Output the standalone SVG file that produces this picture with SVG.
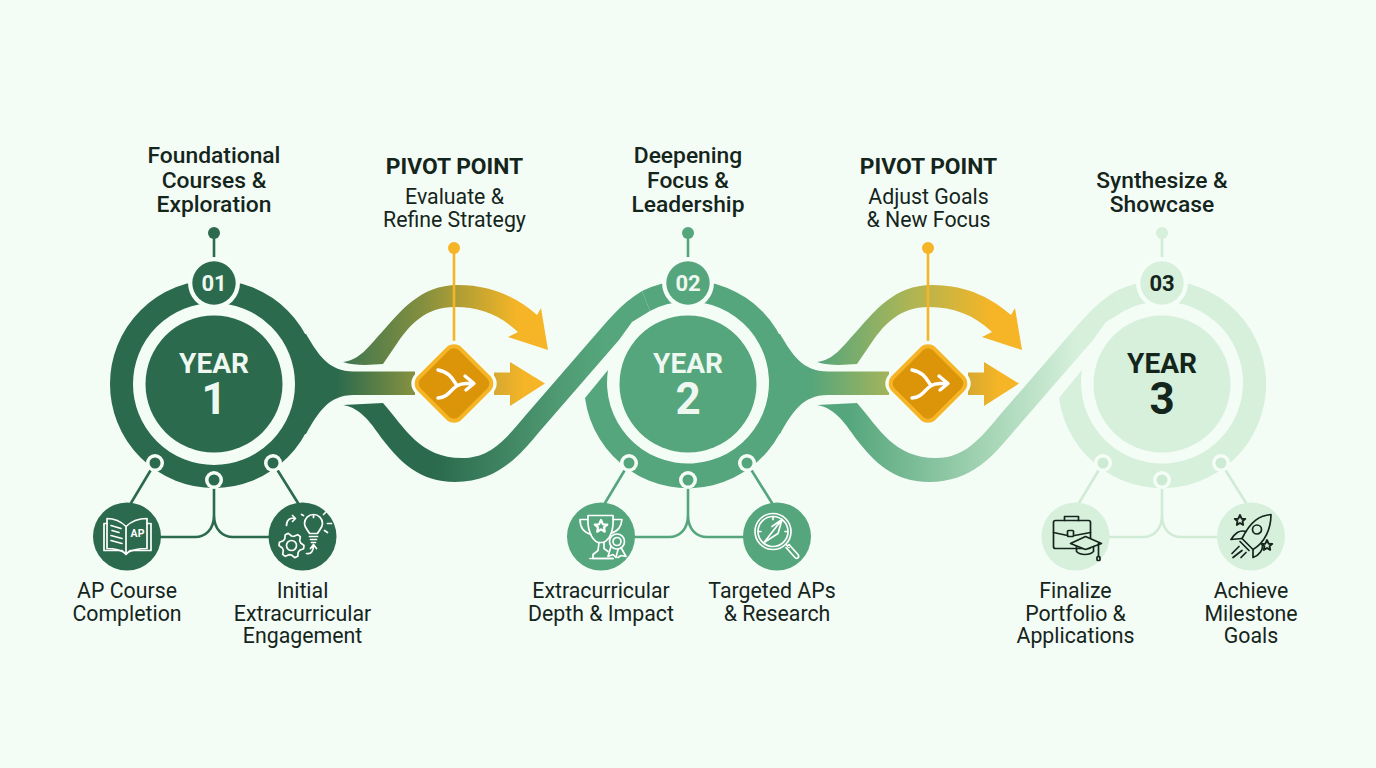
<svg xmlns="http://www.w3.org/2000/svg" width="1376" height="768" viewBox="0 0 1376 768">
<style>
text{font-family:Roboto,"Liberation Sans",sans-serif;text-anchor:middle;fill:#14251c}
.t{font-size:22.8px;font-weight:500}
.p{font-size:22.800px;font-weight:700}
.s{font-size:21.300px}
.y{font-size:28px;font-weight:700}
.n{font-size:44px;font-weight:700}
.b{font-size:22px;font-weight:700}
.w{fill:#eef8f1}
.halo{fill:#f5fdf7}
.i{fill:none;stroke-width:1.7;stroke-linecap:round;stroke-linejoin:round}
.iw{stroke:#fff}
.ik{stroke:#16241c}
.c1{fill:#2b6a4d}.c2{fill:#55a67c}.c3{fill:#d6f0dc}.g{fill:#f5b526}
.l{fill:none;stroke-width:2.6;stroke-linecap:round}
.l1{stroke:#2b6a4d}.l2{stroke:#55a67c}.l3{stroke:#d0ecd6}
</style>
<defs>
<linearGradient id="st1" x1="0" x2="1" y1="0" y2="0"><stop offset=".4" stop-color="#2b6a4d"/><stop offset="1" stop-color="#87913f"/></linearGradient>
<linearGradient id="st2" x1="0" x2="1" y1="0" y2="0"><stop offset=".4" stop-color="#55a67c"/><stop offset="1" stop-color="#a3b45a"/></linearGradient>
<linearGradient id="up1" x1="0" x2="1" y1="0" y2="0"><stop offset="0" stop-color="#3f7550"/><stop offset=".4" stop-color="#86903e"/><stop offset=".85" stop-color="#f5b526"/></linearGradient>
<linearGradient id="up2" x1="0" x2="1" y1="0" y2="0"><stop offset="0" stop-color="#55a67c"/><stop offset=".4" stop-color="#a3b45a"/><stop offset=".85" stop-color="#f5b526"/></linearGradient>
<linearGradient id="ar1" x1="0" x2="1" y1="0" y2="0"><stop offset="0" stop-color="#d6a832"/><stop offset=".6" stop-color="#f5b526"/></linearGradient>
<linearGradient id="bd1" x1="0" x2="1" y1="0" y2="0"><stop offset=".3" stop-color="#2b6a4d"/><stop offset=".7" stop-color="#4f9a72"/><stop offset=".85" stop-color="#55a67c"/></linearGradient>
<linearGradient id="bd2" x1="0" x2="1" y1="0" y2="0"><stop offset=".1" stop-color="#55a67c"/><stop offset=".55" stop-color="#a4d4b4"/><stop offset=".85" stop-color="#d6f0dc"/></linearGradient>
<path id="star" d="M0,-5 L1.5,-1.6 L4.8,-1.5 L2.3,.6 L2.9,4 L0,2.2 L-2.9,4 L-2.3,.6 L-4.8,-1.5 L-1.5,-1.6Z"/>
<path id="flare" d="M70,-50 L92,-50 C104,-30 114,-12.5 140,-12.5 L201,-12.5 L201,11 L140,11 C114,11 104,29 92,50 L70,50 A88,88 0 0 0 70,-50Z"/>
<path id="cutring" fill-rule="evenodd" d="M-103,14 A104,104 0 1 0 -46,-93 L-38,-73 A81,81 0 1 1 -80,-14 Z"/>
<path id="upper" d="M343,362 C360,360 368,347 382,332 C400,312 420,285 458,285 C495,285 520,300 537,315 L541,308 L548,350 L508,337 L518,332 C500,315 480,307 455,307 C425,307 410,325 398,342 L383,364 C370,365 355,366 343,362Z"/>
<path id="rarrow" d="M494,372.500 L510,372.500 L510,362 L545,383.500 L510,406 L510,395 L494,395Z"/>
</defs>
<rect width="1376" height="768" fill="#f4fcf6"/>

<g id="connectors">
<path d="M343,405 L383,403 C405,428 420,458 462,458 C490,458 505,440 525,416 L590,341 C606,323 620,304 642,291 L650,311 L632,322 L619,340 L540,431 C520,455 498,482 455,482 C420,482 400,462 383,440 C372,425 362,408 343,405Z" fill="url(#bd1)"/>
<path d="M817,405 L857,403 C879,428 894,458 936,458 C964,458 979,440 999,416 L1064,341 C1080,323 1094,304 1116,291 L1124,311 L1106,322 L1093,340 L1014,431 C994,455 972,482 929,482 C894,482 874,462 857,440 C846,425 836,408 817,405Z" fill="url(#bd2)"/>
<use href="#upper" fill="url(#up1)"/>
<use href="#upper" x="474" fill="url(#up2)"/>
<use href="#rarrow" fill="url(#ar1)"/>
<use href="#rarrow" x="474" fill="url(#ar1)"/>
<path class="l l1" d="M214,233V262M155,463L131,503M273,463L298,503M214,480V515C214,530 205,537 195,537H160M214,515C214,530 223,537 233,537H270"/>
<path class="l l2" d="M688,233V262M629,463L605,503M747,463L772,503M688,480V515C688,530 679,537 669,537H634M688,515C688,530 697,537 707,537H744"/>
<path class="l l3" stroke-width="3" d="M1162,233V262M1103,463L1079,503M1221,463L1246,503M1162,480V515C1162,530 1153,537 1143,537H1108M1162,515C1162,530 1171,537 1181,537H1218"/>
</g>

<g id="year1">
<g transform="translate(214,384)">
<circle r="92.500" fill="none" stroke="#2b6a4d" stroke-width="23"/>
<use href="#flare" fill="url(#st1)"/>
<circle r="68.500" class="c1"/>
<circle cy="-101" r="26" class="halo"/><circle cy="-101" r="21.700" class="c1"/>
<circle cx="-59" cy="79" r="9" class="halo"/><circle cx="-59" cy="79" r="5.500" class="c1"/>
<circle cy="96" r="9" class="halo"/><circle cy="96" r="5.500" class="c1"/>
<circle cx="59" cy="79" r="9" class="halo"/><circle cx="59" cy="79" r="5.500" class="c1"/>
<circle cy="-151" r="6" class="c1"/>
<text class="y w" y="-11">YEAR</text><text class="n w" y="30">1</text><text class="b w" y="-93.500">01</text>
</g>
</g>
<g id="year2">
<g transform="translate(688,384)">
<use href="#cutring" class="c2"/>
<use href="#flare" fill="url(#st2)"/>
<circle r="68.500" class="c2"/>
<circle cy="-101" r="26" class="halo"/><circle cy="-101" r="21.700" class="c2"/>
<circle cx="-59" cy="79" r="9" class="halo"/><circle cx="-59" cy="79" r="5.500" class="c2"/>
<circle cy="96" r="9" class="halo"/><circle cy="96" r="5.500" class="c2"/>
<circle cx="59" cy="79" r="9" class="halo"/><circle cx="59" cy="79" r="5.500" class="c2"/>
<circle cy="-151" r="6" class="c2"/>
<text class="y w" y="-11">YEAR</text><text class="n w" y="30">2</text><text class="b w" y="-93.500">02</text>
</g>
</g>
<g id="year3">
<g transform="translate(1162,384)">
<use href="#cutring" class="c3"/>
<circle r="68.500" class="c3"/>
<circle cy="-101" r="26" class="halo"/><circle cy="-101" r="21.700" class="c3"/>
<circle cx="-59" cy="79" r="9" class="halo"/><circle cx="-59" cy="79" r="5.500" fill="#cdebd4"/>
<circle cy="96" r="9" class="halo"/><circle cy="96" r="5.500" fill="#cdebd4"/>
<circle cx="59" cy="79" r="9" class="halo"/><circle cx="59" cy="79" r="5.500" fill="#cdebd4"/>
<circle cy="-151" r="6" class="c3"/>
<text class="y" y="-11">YEAR</text><text class="n" y="30">3</text><text class="b" y="-93.500">03</text>
</g>
</g>

<g id="pivot1">
<path d="M454,248V346" stroke="#f5b526" stroke-width="2.600"/><circle cx="454" cy="248" r="6" class="g"/>
<g transform="translate(454,383.500) rotate(45)">
<rect x="-34" y="-34" width="68" height="68" rx="13" class="halo"/>
<rect x="-29" y="-29" width="58" height="58" rx="9" fill="#dc9508" stroke="#f5b526" stroke-width="4"/>
</g>
<path d="M438,370C449,372 452,378 456,384M438,398C452,397 451,383.500 466,383.500H473M465,376L474,383.500L466,390" fill="none" stroke="#fff" stroke-width="3.400" stroke-linecap="round" stroke-linejoin="round"/>
</g>
<g id="pivot2">
<path d="M928,248V346" stroke="#f5b526" stroke-width="2.600"/><circle cx="928" cy="248" r="6" class="g"/>
<g transform="translate(928,383.500) rotate(45)">
<rect x="-34" y="-34" width="68" height="68" rx="13" class="halo"/>
<rect x="-29" y="-29" width="58" height="58" rx="9" fill="#dc9508" stroke="#f5b526" stroke-width="4"/>
</g>
<path d="M912,370C923,372 926,378 930,384M912,398C926,397 925,383.500 940,383.500H947M939,376L948,383.500L940,390" fill="none" stroke="#fff" stroke-width="3.400" stroke-linecap="round" stroke-linejoin="round"/>
</g>

<g id="n-ap">
<circle cx="127" cy="536.500" r="34" class="c1"/>
<g transform="translate(127,536.500)" class="i iw">
<path d="M-1,-10C-7,-16 -14,-18 -20,-18V12C-14,12 -7,13 -1,17C5,13 12,12 20,12V-18C12,-18 5,-16 -1,-10V17"/>
<path d="M-20,-13H-23V14H-5L-1,18L3,14H24V-13H20"/>
<path d="M-16,-11L-6,-8M-15,-6L-8,-4M-16,-1L-5,2M-16,4L-5,7"/>
<text x="10.500" y="0" style="font-size:10.500px;font-weight:700;fill:#fff;stroke:none">AP</text>
</g>
</g>
<g id="n-initial">
<circle cx="302.500" cy="536.500" r="34" class="c1"/>
<g transform="translate(302.500,536.500)" class="i iw">
<g transform="translate(-11,9)">
<path d="M12.500,0L12.100,3.200L8.200,4.750L6.700,6.700L6.250,10.800L3.200,12.100L0,9.500L-2.500,9.200L-6.250,10.800L-8.800,8.800L-8.200,4.750L-9.200,2.500L-12.500,0L-12.100,-3.200L-8.200,-4.750L-6.700,-6.700L-6.250,-10.800L-3.200,-12.100L0,-9.500L2.500,-9.200L6.250,-10.800L8.800,-8.800L8.200,-4.750L9.200,-2.500Z"/>
<circle r="5"/>
</g>
<path d="M7,-3C6,-6 2,-8 2,-13A9,9 0 1 1 20,-13C20,-8 16,-6 15,-3ZM7,0H15M8,3H14M9,6H13"/>
<path d="M11,-19V-21M21,-22L24,-25M25,-13H29M22,-6L25,-4M1,-21L-1,-22"/>
<path d="M-16,-11C-16,-17 -12,-19 -8,-18M-10,-21L-7,-18L-10,-15"/>
<path d="M4,17C9,18 11,14 11,9M8,12L11,8L14,12"/>
</g>
</g>
<g id="n-depth">
<circle cx="601" cy="536.500" r="34" class="c2"/>
<g transform="translate(601,536.500)" class="i iw">
<path d="M-13,-21H12C13,-8 10,3 2,6H-3C-10,3 -14,-8 -13,-21Z"/>
<path d="M-13,-17H-21C-21,-8 -17,-4 -10,-2M12,-17H21C20,-10 18,-6 10,-3"/>
<path d="M-2,6L-3,14L-8,18V22H12M3,6L3,12L7,15"/>
<path d="M-11,22H12"/>
<use href="#star" transform="translate(0,-10) scale(1.300)"/>
<circle cx="16" cy="5" r="7.500" style="fill:#55a67c"/><circle cx="16" cy="5" r="4"/>
<path d="M10,10L7,20L12,18L15,21L17,13M20,11L25,20L20,19L17,21"/>
</g>
</g>
<g id="n-targeted">
<circle cx="777" cy="536.500" r="34" class="c2"/>
<g transform="translate(777,536.500)" class="i iw">
<circle cx="-4" cy="-5" r="18"/><circle cx="-4" cy="-5" r="15"/>
<path d="M5,-17L-13,6L1,-3ZM5,-17L-5,-10M-4,-20V-17M-19,-5H-16M8,-5H11"/>
<path d="M9,8L12,11M12,8L21,18C23,21 20,23 18,21L9,11Z"/>
</g>
</g>
<g id="n-finalize">
<circle cx="1075.500" cy="536.500" r="34" class="c3"/>
<g transform="translate(1075.500,536.500)" class="i ik">
<rect x="-22" y="-16" width="37" height="28" rx="2"/>
<path d="M-11,-16V-20H3V-16M-22,-4L-8,-1M-1,-1L15,-4"/>
<rect x="-8" y="-6" width="6" height="6" rx="1"/>
<path d="M-5,7L10,0L26,7L10,13Z" style="fill:#d6f0dc"/>
<path d="M1,10V15C5,19 14,19 18,15V10M23,7V20"/>
<rect x="21.500" y="20" width="3" height="4" rx="1"/>
</g>
</g>
<g id="n-achieve">
<circle cx="1251" cy="536.500" r="34" class="c3"/>
<g transform="translate(1251,536.500)" class="i ik">
<path d="M20,-22C9,-21 0,-16 -9,2L2,13C14,6 20,-8 20,-22Z"/>
<circle cx="6" cy="-7" r="4.500"/>
<path d="M-5,-5C-12,-7 -16,-3 -20,3L-9,2M11,7C13,13 8,19 2,21L2,13M-11,5L-2,14"/>
<path d="M-12,10L-19,17M-9,14L-18,21M-5,16L-10,21"/>
<use href="#star" transform="translate(-11,-16) scale(1.100)"/>
<use href="#star" transform="translate(16,9) scale(1.100)"/>
</g>
</g>

<g id="labels">
<text class="t" x="214" y="163">Foundational</text><text class="t" x="214" y="188">Courses &amp;</text><text class="t" x="214" y="212">Exploration</text>
<text class="p" x="454.500" y="174">PIVOT POINT</text><text class="s" x="454.500" y="204">Evaluate &amp;</text><text class="s" x="454.500" y="227">Refine Strategy</text>
<text class="t" x="688" y="163">Deepening</text><text class="t" x="688" y="188">Focus &amp;</text><text class="t" x="688" y="212">Leadership</text>
<text class="p" x="928.500" y="174">PIVOT POINT</text><text class="s" x="928.500" y="204">Adjust Goals</text><text class="s" x="928.500" y="227">&amp; New Focus</text>
<text class="t" x="1162" y="188">Synthesize &amp;</text><text class="t" x="1162" y="212">Showcase</text>
<text class="s" x="127" y="598">AP Course</text><text class="s" x="127" y="621">Completion</text>
<text class="s" x="302.500" y="598">Initial</text><text class="s" x="302.500" y="621">Extracurricular</text><text class="s" x="302.500" y="643">Engagement</text>
<text class="s" x="601" y="598">Extracurricular</text><text class="s" x="601" y="621">Depth &amp; Impact</text>
<text class="s" x="772" y="598">Targeted APs</text><text class="s" x="777" y="621">&amp; Research</text>
<text class="s" x="1075.500" y="598">Finalize</text><text class="s" x="1075.500" y="621">Portfolio &amp;</text><text class="s" x="1075.500" y="643">Applications</text>
<text class="s" x="1251" y="598">Achieve</text><text class="s" x="1251" y="621">Milestone</text><text class="s" x="1251" y="643">Goals</text>
</g>
</svg>
